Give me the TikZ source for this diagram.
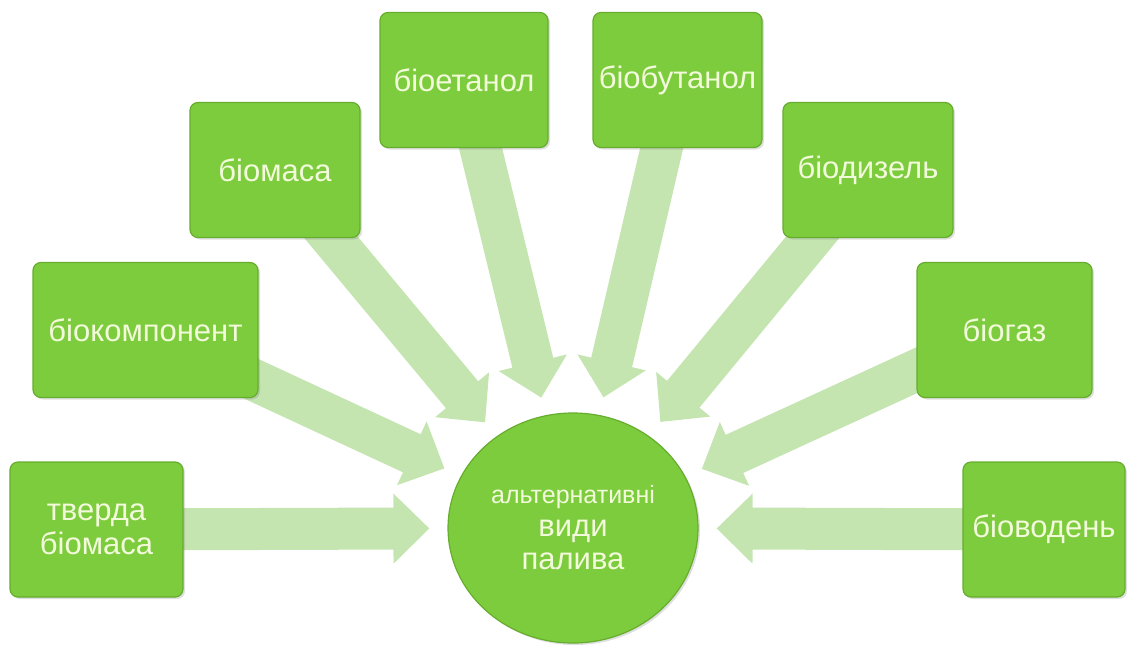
\documentclass[tikz,border=0pt]{standalone}
\usepackage{fontspec}
\setmainfont{Liberation Sans}
\usetikzlibrary{arrows.meta}
\usetikzlibrary{shapes.geometric}
\usetikzlibrary{backgrounds}
\usetikzlibrary{shadows}
\definecolor{leafgreen}{rgb}{0.49, 0.80, 0.24}
\definecolor{leafedge}{rgb}{0.40, 0.68, 0.18}
\definecolor{palegreen}{rgb}{0.77, 0.90, 0.69}
\definecolor{paletext}{rgb}{0.95, 0.98, 0.86}

\begin{document}
\begin{tikzpicture}[x=1pt,y=-1pt,line join=round,
    fuelbox/.style={draw=leafedge,line width=1.2pt,fill=leafgreen,rounded corners=8pt,
        minimum height=135pt,align=center,text=paletext,
        drop shadow={shadow xshift=2pt,shadow yshift=-2pt,opacity=0.25},
        font=\fontsize{31}{34}\selectfont},
    hub/.style={ellipse,draw=leafedge,line width=1.2pt,fill=leafgreen,inner sep=0pt,
        minimum width=250pt,minimum height=230pt,align=center,text=paletext,
        drop shadow={shadow xshift=2pt,shadow yshift=-2pt,opacity=0.25},
        font=\fontsize{31}{33}\selectfont},
    feed/.style={palegreen,line width=42pt,shorten <=-30pt,shorten >=18pt,
        -{Triangle[length=36pt,width=68pt]}}]
    \useasboundingbox (0,0) rectangle (1131,648);
    % centre
    \node[hub] (fuel) at (573,528) {{\fontsize{25}{30}\selectfont альтернативні}\\види\\палива};
    % left side
    \node[fuelbox,minimum width=173pt] (solid) at (96.5,529.5) {тверда\\біомаса};
    \node[fuelbox,minimum width=225pt] (comp) at (145.5,330) {біокомпонент};
    \node[fuelbox,minimum width=170pt] (mass) at (275,170) {біомаса};
    \node[fuelbox,minimum width=168pt] (ethanol) at (464,80) {біоетанол};
    % right side
    \node[fuelbox,minimum width=169pt] (butanol) at (677.5,80) {біобутанол};
    \node[fuelbox,minimum width=170pt] (diesel) at (868,170) {біодизель};
    \node[fuelbox,minimum width=175pt] (gas) at (1004.5,330) {біогаз};
    \node[fuelbox,minimum width=162pt] (hydrogen) at (1044,529.5) {біоводень};
    % arrows
    \begin{scope}[on background layer]
        \foreach \src in {solid,comp,mass,ethanol,butanol,diesel,gas,hydrogen}
            \draw[feed] (\src) -- (fuel);
    \end{scope}
\end{tikzpicture}
\end{document}
